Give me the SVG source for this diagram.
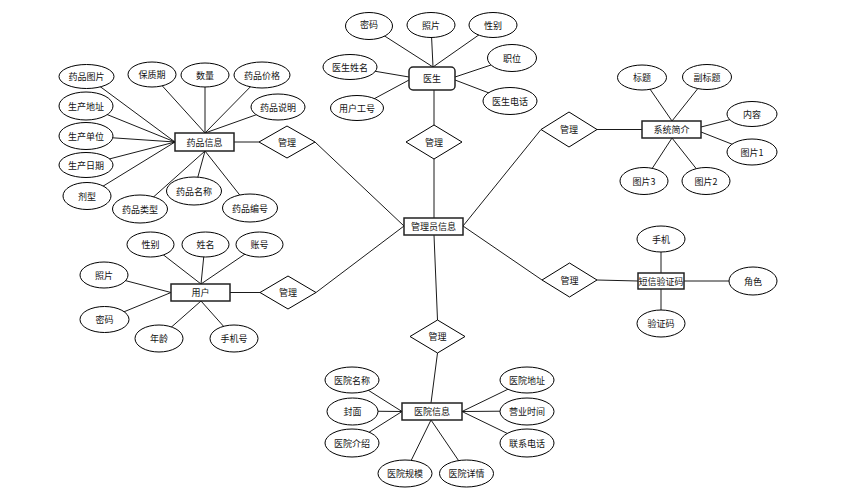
<svg xmlns="http://www.w3.org/2000/svg" width="858" height="498" viewBox="0 0 858 498">
<style>
.c line{stroke:#000;stroke-width:0.9}
ellipse{fill:#fff;stroke:#000;stroke-width:1}
rect.e{fill:#fff;stroke:#222;stroke-width:1.5}
polygon{fill:#fff;stroke:#000;stroke-width:1}
text{font-family:"Noto Sans CJK SC","Liberation Sans",sans-serif;font-size:9px;fill:#111;text-anchor:middle;dominant-baseline:central}
</style>
<rect width="858" height="498" fill="#fff"/>
<g class="c" id="connectors">
<line x1="86.5" y1="76.5" x2="175" y2="142"/>
<line x1="86" y1="106" x2="175" y2="142"/>
<line x1="86" y1="136" x2="175" y2="142"/>
<line x1="86" y1="165" x2="175" y2="142"/>
<line x1="87" y1="196" x2="175" y2="142"/>
<line x1="152" y1="74.5" x2="205" y2="133"/>
<line x1="205" y1="75" x2="205" y2="133"/>
<line x1="262" y1="75" x2="205" y2="133"/>
<line x1="278" y1="107" x2="205" y2="133"/>
<line x1="140" y1="209" x2="205" y2="151"/>
<line x1="194" y1="191" x2="205" y2="151"/>
<line x1="250" y1="208" x2="205" y2="151"/>
<line x1="234" y1="142" x2="259" y2="142"/>
<line x1="315" y1="142" x2="404" y2="226"/>
<line x1="369" y1="26" x2="433" y2="67"/>
<line x1="431" y1="25" x2="433" y2="67"/>
<line x1="493" y1="25" x2="433" y2="67"/>
<line x1="350" y1="67" x2="409" y2="77"/>
<line x1="357" y1="108" x2="409" y2="80"/>
<line x1="512" y1="58" x2="455" y2="77"/>
<line x1="510" y1="101" x2="455" y2="80"/>
<line x1="434" y1="90" x2="434" y2="125"/>
<line x1="434" y1="159" x2="434" y2="218"/>
<line x1="642" y1="77.5" x2="672" y2="121"/>
<line x1="707" y1="77" x2="672" y2="121"/>
<line x1="752" y1="114" x2="701" y2="127"/>
<line x1="752" y1="152" x2="701" y2="132"/>
<line x1="644" y1="181" x2="672" y2="138"/>
<line x1="706" y1="181" x2="672" y2="138"/>
<line x1="597" y1="129.5" x2="642" y2="129.5"/>
<line x1="463" y1="226" x2="541" y2="129.5"/>
<line x1="463" y1="226" x2="542" y2="280"/>
<line x1="597" y1="280" x2="638" y2="281"/>
<line x1="661" y1="239" x2="661" y2="273"/>
<line x1="661" y1="323" x2="661" y2="289"/>
<line x1="753" y1="281" x2="684" y2="281"/>
<line x1="150" y1="244.5" x2="201" y2="284"/>
<line x1="205" y1="244.5" x2="201" y2="284"/>
<line x1="259" y1="244.5" x2="201" y2="284"/>
<line x1="104" y1="275" x2="171" y2="292.5"/>
<line x1="104" y1="320" x2="171" y2="292.5"/>
<line x1="159" y1="338" x2="201" y2="301"/>
<line x1="234" y1="338" x2="201" y2="301"/>
<line x1="230" y1="292.5" x2="260" y2="292.5"/>
<line x1="316" y1="292.5" x2="404" y2="226"/>
<line x1="434" y1="235" x2="437.5" y2="320"/>
<line x1="437.5" y1="353" x2="431" y2="403"/>
<line x1="352" y1="380" x2="402" y2="411.5"/>
<line x1="352" y1="411" x2="402" y2="411.5"/>
<line x1="352" y1="443" x2="402" y2="411.5"/>
<line x1="527" y1="380" x2="462" y2="411.5"/>
<line x1="527" y1="411" x2="462" y2="411.5"/>
<line x1="527" y1="443" x2="462" y2="411.5"/>
<line x1="405" y1="473" x2="431" y2="420"/>
<line x1="467" y1="473" x2="431" y2="420"/>
</g>
<!-- 药品信息 -->
<g id="drug"><rect class="e" x="175" y="133" width="59" height="18"/><text x="204.5" y="142">药品信息</text></g>
<g id="drug-manage"><polygon points="259,142 287,126 315,142 287,158"/><text x="287" y="142">管理</text></g>
<g id="drug-pic"><ellipse cx="86.5" cy="76.5" rx="27.5" ry="12"/><text x="86.5" y="76.5">药品图片</text></g>
<g id="drug-shelf"><ellipse cx="152" cy="74.5" rx="24" ry="12.5"/><text x="152" y="74.5">保质期</text></g>
<g id="drug-qty"><ellipse cx="205" cy="75" rx="24" ry="12"/><text x="205" y="75">数量</text></g>
<g id="drug-price"><ellipse cx="262" cy="75" rx="28" ry="13"/><text x="262" y="75">药品价格</text></g>
<g id="drug-desc"><ellipse cx="278" cy="107" rx="27" ry="13"/><text x="278" y="107">药品说明</text></g>
<g id="drug-addr"><ellipse cx="86" cy="106" rx="27" ry="14"/><text x="86" y="106">生产地址</text></g>
<g id="drug-unit"><ellipse cx="86" cy="136" rx="27" ry="13.5"/><text x="86" y="136">生产单位</text></g>
<g id="drug-date"><ellipse cx="86" cy="165" rx="27" ry="12.5"/><text x="86" y="165">生产日期</text></g>
<g id="drug-form"><ellipse cx="87" cy="196" rx="24" ry="13.5"/><text x="87" y="196">剂型</text></g>
<g id="drug-type"><ellipse cx="140" cy="209" rx="27.5" ry="14"/><text x="140" y="209">药品类型</text></g>
<g id="drug-name"><ellipse cx="194" cy="191" rx="27.5" ry="14"/><text x="194" y="191">药品名称</text></g>
<g id="drug-no"><ellipse cx="250" cy="208" rx="27.5" ry="14"/><text x="250" y="208">药品编号</text></g>
<!-- 医生 -->
<g id="doctor"><rect class="e" x="409" y="67" width="46" height="23" rx="4"/><text x="432" y="78.5">医生</text></g>
<g id="doctor-manage"><polygon points="406,142 434,125 462,142 434,159"/><text x="434" y="142">管理</text></g>
<g id="doc-pwd"><ellipse cx="369" cy="26" rx="23.5" ry="13.5"/><text x="369" y="24">密码</text></g>
<g id="doc-photo"><ellipse cx="431" cy="25" rx="24" ry="12.5"/><text x="431" y="25">照片</text></g>
<g id="doc-sex"><ellipse cx="493" cy="25" rx="24" ry="12.5"/><text x="493" y="25">性别</text></g>
<g id="doc-title"><ellipse cx="512" cy="58" rx="24.5" ry="13.5"/><text x="512" y="58">职位</text></g>
<g id="doc-tel"><ellipse cx="510" cy="101" rx="27" ry="13.5"/><text x="510" y="101">医生电话</text></g>
<g id="doc-name"><ellipse cx="350" cy="67" rx="27" ry="12.5"/><text x="350" y="67">医生姓名</text></g>
<g id="doc-id"><ellipse cx="357" cy="108" rx="26.5" ry="12.5"/><text x="357" y="108">用户工号</text></g>
<!-- 管理员信息 -->
<g id="admin"><rect class="e" x="404" y="218" width="59" height="17"/><text x="433.5" y="226.5">管理员信息</text></g>
<!-- 系统简介 -->
<g id="sys"><rect class="e" x="642" y="121" width="59" height="17"/><text x="671.5" y="129.5">系统简介</text></g>
<g id="sys-manage"><polygon points="541,129.5 569,112 597,129.5 569,147"/><text x="569" y="129.5">管理</text></g>
<g id="sys-title"><ellipse cx="642" cy="77.5" rx="24.5" ry="12.5"/><text x="642" y="77.5">标题</text></g>
<g id="sys-sub"><ellipse cx="707" cy="77" rx="24.5" ry="12.5"/><text x="707" y="77">副标题</text></g>
<g id="sys-content"><ellipse cx="752" cy="114" rx="25" ry="12.5"/><text x="752" y="114">内容</text></g>
<g id="sys-p1"><ellipse cx="752" cy="152" rx="25" ry="13"/><text x="752" y="152">图片1</text></g>
<g id="sys-p3"><ellipse cx="644" cy="181" rx="24" ry="13.5"/><text x="644" y="181">图片3</text></g>
<g id="sys-p2"><ellipse cx="706" cy="181" rx="24" ry="13.5"/><text x="706" y="181">图片2</text></g>
<!-- 短信验证码 -->
<g id="sms"><rect class="e" x="638" y="273" width="46" height="16"/><text x="661" y="281">短信验证码</text></g>
<g id="sms-manage"><polygon points="542,280 569.5,263 597,280 569.5,297"/><text x="569.5" y="280">管理</text></g>
<g id="sms-phone"><ellipse cx="661" cy="239" rx="24" ry="13"/><text x="661" y="239">手机</text></g>
<g id="sms-role"><ellipse cx="753" cy="281" rx="24" ry="14"/><text x="753" y="281">角色</text></g>
<g id="sms-code"><ellipse cx="661" cy="323.5" rx="24" ry="13.5"/><text x="661" y="323.5">验证码</text></g>
<!-- 用户 -->
<g id="user"><rect class="e" x="171" y="284" width="59" height="17"/><text x="200.5" y="292.5">用户</text></g>
<g id="user-manage"><polygon points="260,292.5 288,276 316,292.5 288,309"/><text x="288" y="292.5">管理</text></g>
<g id="user-sex"><ellipse cx="150.5" cy="244.5" rx="23.5" ry="12.5"/><text x="150.5" y="244.5">性别</text></g>
<g id="user-name"><ellipse cx="205.5" cy="244.5" rx="23.5" ry="12.5"/><text x="205.5" y="244.5">姓名</text></g>
<g id="user-acc"><ellipse cx="259.5" cy="244.5" rx="23.5" ry="12.5"/><text x="259.5" y="244.5">账号</text></g>
<g id="user-photo"><ellipse cx="104" cy="275" rx="24" ry="13"/><text x="104" y="275">照片</text></g>
<g id="user-pwd"><ellipse cx="104.5" cy="319.5" rx="24.5" ry="13"/><text x="104.5" y="319.5">密码</text></g>
<g id="user-age"><ellipse cx="159" cy="338.5" rx="24" ry="13.5"/><text x="159" y="338.5">年龄</text></g>
<g id="user-tel"><ellipse cx="234" cy="338.5" rx="24" ry="13.5"/><text x="234" y="338.5">手机号</text></g>
<!-- 医院信息 -->
<g id="hosp"><rect class="e" x="402" y="403" width="60" height="17"/><text x="432" y="411.5">医院信息</text></g>
<g id="hosp-manage"><polygon points="410,336.5 437.5,320 465,336.5 437.5,353"/><text x="437.5" y="336.5">管理</text></g>
<g id="hosp-name"><ellipse cx="352" cy="380" rx="27" ry="13"/><text x="352" y="380">医院名称</text></g>
<g id="hosp-cover"><ellipse cx="352.5" cy="411.5" rx="25.5" ry="13.5"/><text x="352.5" y="411.5">封面</text></g>
<g id="hosp-intro"><ellipse cx="352" cy="443" rx="27" ry="14"/><text x="352" y="443">医院介绍</text></g>
<g id="hosp-scale"><ellipse cx="405" cy="473.5" rx="27" ry="13.5"/><text x="405" y="473.5">医院规模</text></g>
<g id="hosp-detail"><ellipse cx="466.5" cy="473.5" rx="27" ry="13.5"/><text x="466.5" y="473.5">医院详情</text></g>
<g id="hosp-addr"><ellipse cx="527" cy="380" rx="27" ry="13"/><text x="527" y="380">医院地址</text></g>
<g id="hosp-hours"><ellipse cx="527" cy="411.5" rx="27" ry="13.5"/><text x="527" y="411.5">营业时间</text></g>
<g id="hosp-tel"><ellipse cx="527" cy="443" rx="27" ry="14"/><text x="527" y="443">联系电话</text></g>
</svg>
